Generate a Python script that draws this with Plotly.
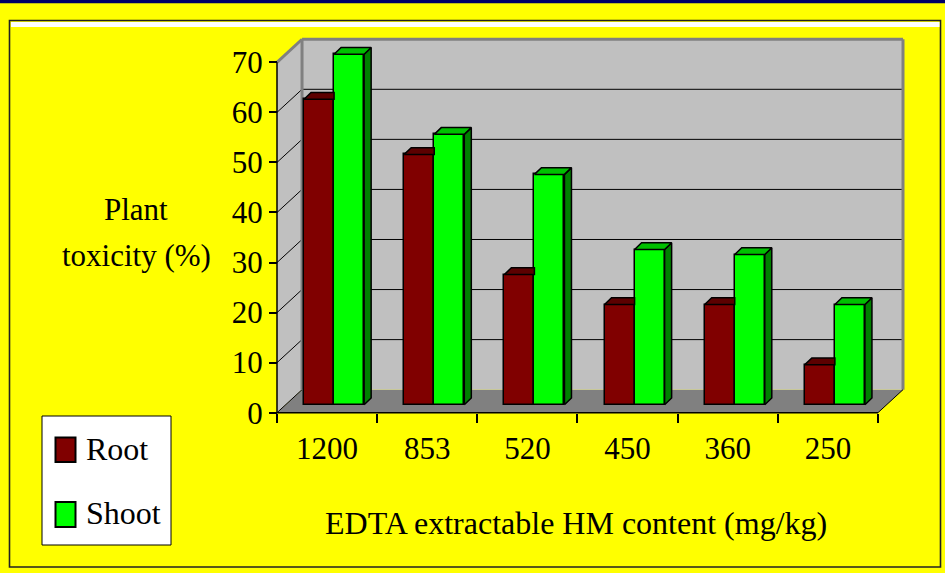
import plotly.graph_objects as go

# ---- data -------------------------------------------------------------
categories = ["1200", "853", "520", "450", "360", "250"]
root = [61, 50, 26, 20, 20, 8]
shoot = [70, 54, 46, 31, 30, 20]
y_ticks = [0, 10, 20, 30, 40, 50, 60, 70]

# ---- geometry ---------------------------------------------------------
W, H = 945, 573
ML, MR, MT, MB = 273, 40, 37, 158
PW = W - ML - MR
PH = H - MT - MB
UX = 100.16          # px per category
UY = 5.006           # px per percent
AX_X, AX_Y = 277, 412.7   # pixel position of the axes origin

X0 = -(AX_X - ML) / UX
X1 = X0 + PW / UX
Y0 = -((MT + PH) - AX_Y) / UY
Y1 = Y0 + PH / UY

N = len(categories)
YMAX = y_ticks[-1]
WX, WY = 0.25, 4.6      # wall depth (oblique offset)
BX, BY = 0.07, 1.35     # column depth
BASE = 1.6              # columns stand in the middle of the floor
SX = 0.07
BW = 0.30

FONT = "Liberation Serif"


def px(xp):
    return (xp - ML) / PW


def py(yp):
    return (MT + PH - yp) / PH


shapes = []


def dline(x0, y0, x1, y1, color="black", width=1.0):
    shapes.append(dict(type="line", xref="x", yref="y", x0=x0, y0=y0, x1=x1, y1=y1,
                       line=dict(color=color, width=width), layer="below"))


def prect(x0, y0, x1, y1, fill=None, lc=None, lw=0, layer="below"):
    shapes.append(dict(type="rect", xref="paper", yref="paper", x0=px(x0), y0=py(y0),
                       x1=px(x1), y1=py(y1), fillcolor=fill if fill else "rgba(0,0,0,0)",
                       line=dict(color=lc if lc else "rgba(0,0,0,0)", width=lw), layer=layer))


# page decoration
prect(0, 0, W, 3.3, fill="#000066")
prect(9.5, 20.5, 940.5, 567, lc="#222222", lw=1.6)
prect(11, 22, 939.5, 27, fill="white")

# walls and floor
shapes.append(dict(type="path", xref="x", yref="y",
                   path=f"M 0,0 L {N},0 L {N + WX},{WY} L {WX},{WY} Z",
                   fillcolor="#808080", line=dict(width=0), layer="below"))
shapes.append(dict(type="path", xref="x", yref="y",
                   path=f"M 0,0 L 0,{YMAX} L {WX},{YMAX + WY} L {WX},{WY} Z",
                   fillcolor="#C0C0C0", line=dict(width=0), layer="below"))
shapes.append(dict(type="rect", xref="x", yref="y", x0=WX, y0=WY, x1=N + WX, y1=YMAX + WY,
                   fillcolor="#C0C0C0", line=dict(width=0), layer="below"))

for v in y_ticks[1:-1]:
    dline(WX, v + WY, N + WX, v + WY, width=1)
for v in y_ticks[:-1]:
    dline(0, v, WX, v + WY, width=1)

# wall edges
dline(WX, YMAX + WY, N + WX, YMAX + WY, color="#808080", width=3)
dline(N + WX, WY, N + WX, YMAX + WY, color="#808080", width=3)
dline(0, YMAX, WX, YMAX + WY, color="#808080", width=3)
dline(WX, WY, WX, YMAX + WY, color="#808080", width=3)

# axis lines
dline(0, 0, 0, YMAX, width=1.5)
dline(0, 0, N, 0, width=1.5)
dline(N, 0, N + WX, WY, width=1)

# ---- columns ----------------------------------------------------------
root_c = [i + 0.5 + SX - BW / 2 for i in range(N)]
shoot_c = [i + 0.5 + SX + BW / 2 for i in range(N)]

fig = go.Figure()
fig.add_trace(go.Bar(x=root_c, y=root, base=BASE, width=BW, name="Root",
                     marker=dict(color="#800000", line=dict(color="black", width=1.5)),
                     showlegend=False, hoverinfo="skip"))
fig.add_trace(go.Bar(x=shoot_c, y=shoot, base=BASE, width=BW, name="Shoot",
                     marker=dict(color="#00FF00", line=dict(color="black", width=1.5)),
                     showlegend=False, hoverinfo="skip"))


def faces(centers, values, neighbour=None):
    tx, ty, sx, sy = [], [], [], []
    for k, (c, v) in enumerate(zip(centers, values)):
        xl, xr, t = c - BW / 2, c + BW / 2, BASE + v
        hidden = neighbour is not None and neighbour[k] >= v
        if hidden:
            tx += [xl, xr, xr, xl + BX, xl, None]
            ty += [t, t, t + BY, t + BY, t, None]
        else:
            tx += [xl, xr, xr + BX, xl + BX, xl, None]
            ty += [t, t, t + BY, t + BY, t, None]
            sx += [xr, xr, xr + BX, xr + BX, xr, None]
            sy += [BASE, t, t + BY, BASE + BY, BASE, None]
    return tx, ty, sx, sy


rtx, rty, rsx, rsy = faces(root_c, root, neighbour=shoot)
stx, sty, ssx, ssy = faces(shoot_c, shoot)

for xs, ys, col in [(rtx, rty, "#5C0000"), (rsx, rsy, "#400000"),
                    (ssx, ssy, "#008000"), (stx, sty, "#00C000")]:
    if xs:
        fig.add_trace(go.Scatter(x=xs, y=ys, mode="lines", fill="toself", fillcolor=col,
                                 line=dict(color="black", width=1.5), showlegend=False,
                                 hoverinfo="skip"))

# ---- legend box -------------------------------------------------------
prect(42, 416, 171, 545, fill="white", lc="black", lw=1, layer="above")
prect(55.5, 437.5, 75.5, 462, fill="#800000", lc="black", lw=2, layer="above")
prect(55.5, 502, 75.5, 527, fill="#00FF00", lc="black", lw=2, layer="above")

annotations = []


def ptext(text, xp, yp, xanchor="left", size=31):
    annotations.append(dict(text=text, xref="paper", yref="paper", x=px(xp), y=py(yp),
                            xanchor=xanchor, yanchor="middle", showarrow=False,
                            font=dict(family=FONT, size=size, color="black")))


ptext("Root", 84, 449, size=32)
ptext("Shoot", 84, 513, size=32)
ptext("Plant", 136, 209, xanchor="center")
ptext("toxicity (%)", 136, 256, xanchor="center")
ptext("EDTA extractable HM content (mg/kg)", 576, 523, xanchor="center", size=32)

fig.update_layout(
    width=W, height=H,
    margin=dict(l=ML, r=MR, t=MT, b=MB, pad=0),
    paper_bgcolor="#FFFF00", plot_bgcolor="rgba(0,0,0,0)",
    barmode="overlay", bargap=0,
    shapes=shapes, annotations=annotations,
    xaxis=dict(range=[X0, X1], tickvals=[i + 0.5 for i in range(N)], ticktext=categories,
               ticks="", showgrid=False, zeroline=False, showline=False,
               tickfont=dict(family=FONT, size=31, color="black"),
               anchor="free", position=py(AX_Y), ticklabelstandoff=14,
               minor=dict(tick0=0, dtick=1, ticks="outside", ticklen=9, tickwidth=1.5,
                          tickcolor="black", showgrid=False)),
    yaxis=dict(range=[Y0, Y1], tickvals=y_ticks, ticks="outside", ticklen=8, tickwidth=1.5,
               tickcolor="black", showgrid=False, zeroline=False, showline=False,
               tickfont=dict(family=FONT, size=31, color="black"),
               anchor="free", position=px(AX_X)),
    showlegend=False,
)

fig.write_html("out.html")
